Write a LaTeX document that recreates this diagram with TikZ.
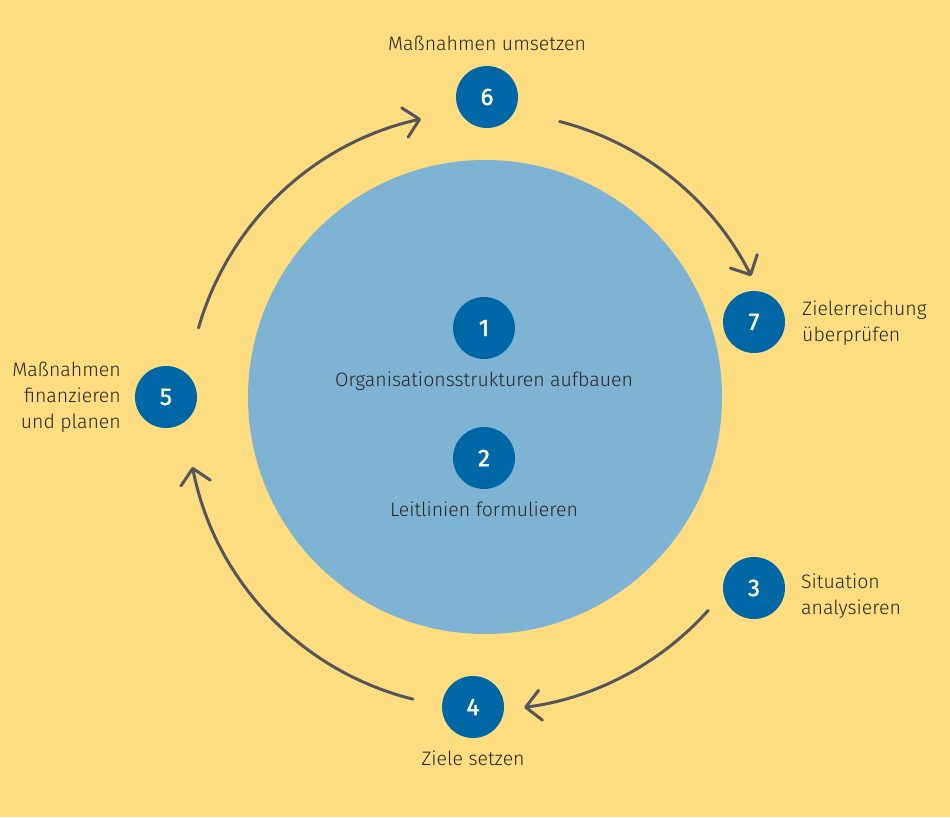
\documentclass[tikz,border=0pt]{standalone}
\usepackage{fontspec}
\setmainfont{Fira Sans Light}
\newfontfamily\numfont{Fira Sans}[FakeBold=1.6]
\usetikzlibrary{arrows.meta,calc}
\definecolor{bgyellow}{HTML}{FDDD80}
\definecolor{bigblue}{HTML}{7FB3D3}
\definecolor{darkblue}{HTML}{0067A6}
\definecolor{arrowgray}{HTML}{56565A}
\definecolor{txt}{HTML}{262626}
\tikzset{
  numcircle/.style={circle, fill=darkblue, minimum size=62pt, inner sep=0pt, text=white, font=\numfont\fontsize{24}{24}\selectfont},
  lbl/.style={text=txt, inner sep=0pt, font=\fontsize{19.5}{26}\selectfont},
  cyclearrow/.style={draw=arrowgray, line width=3pt, line cap=round, -{Straight Barb[length=15pt, width=30pt, line cap=round, line join=round]}}
}
\begin{document}
\begin{tikzpicture}[x=1pt, y=1pt]
  \fill[bgyellow] (0,0) rectangle (950,-817);
  \useasboundingbox (0,0) rectangle (950,-817);
  \coordinate (C) at (485,-410);
  \node[circle, fill=bigblue, minimum size=474pt, inner sep=0pt] (big) at (485,-397) {};

  \node[numcircle] (n1) at (484,-328) {1};
  \node[numcircle] (n2) at (484,-458) {2};
  \node[numcircle] (n3) at (754,-588) {3};
  \node[numcircle] (n4) at (473,-707) {4};
  \node[numcircle] (n5) at (166,-397) {5};
  \node[numcircle] (n6) at (487,-97) {6};
  \node[numcircle] (n7) at (754,-322) {7};

  \node[lbl, anchor=base] (t1) at (484,-386) {Organisationsstrukturen aufbauen};
  \node[lbl, anchor=base] (t2) at (484,-516.5) {Leitlinien formulieren};
  \node[lbl, anchor=west, align=left] (t3) at (801,-596.5) {Situation\\analysieren};
  \node[lbl, anchor=base] (t4) at (473,-765.5) {Ziele setzen};
  \node[lbl, anchor=east, align=right] (t5) at (121,-397.5) {Maßnahmen\\finanzieren\\und planen};
  \node[lbl, anchor=base] (t6) at (487,-50) {Maßnahmen umsetzen};
  \node[lbl, anchor=west, align=left] (t7) at (802,-323) {Zielerreichung\\überprüfen};

  \coordinate (a56s) at ($(C)+(164:298pt)$);
  \coordinate (a67s) at ($(C)+(75.5:298pt)$);
  \coordinate (a34s) at ($(C)+(-41.9:300pt)$);
  \coordinate (a45s) at ($(C)+(-104:298pt)$);

  \draw[cyclearrow] (a56s) arc[start angle=164, end angle=102.4, radius=298pt];
  \draw[cyclearrow] (a67s) arc[start angle=75.5, end angle=26.7, radius=298pt];
  \draw[cyclearrow] (a34s) arc[start angle=-41.9, end angle=-82.5, radius=300pt];
  \draw[cyclearrow] (a45s) arc[start angle=-104, end angle=-169, radius=298pt];
\end{tikzpicture}
\end{document}
